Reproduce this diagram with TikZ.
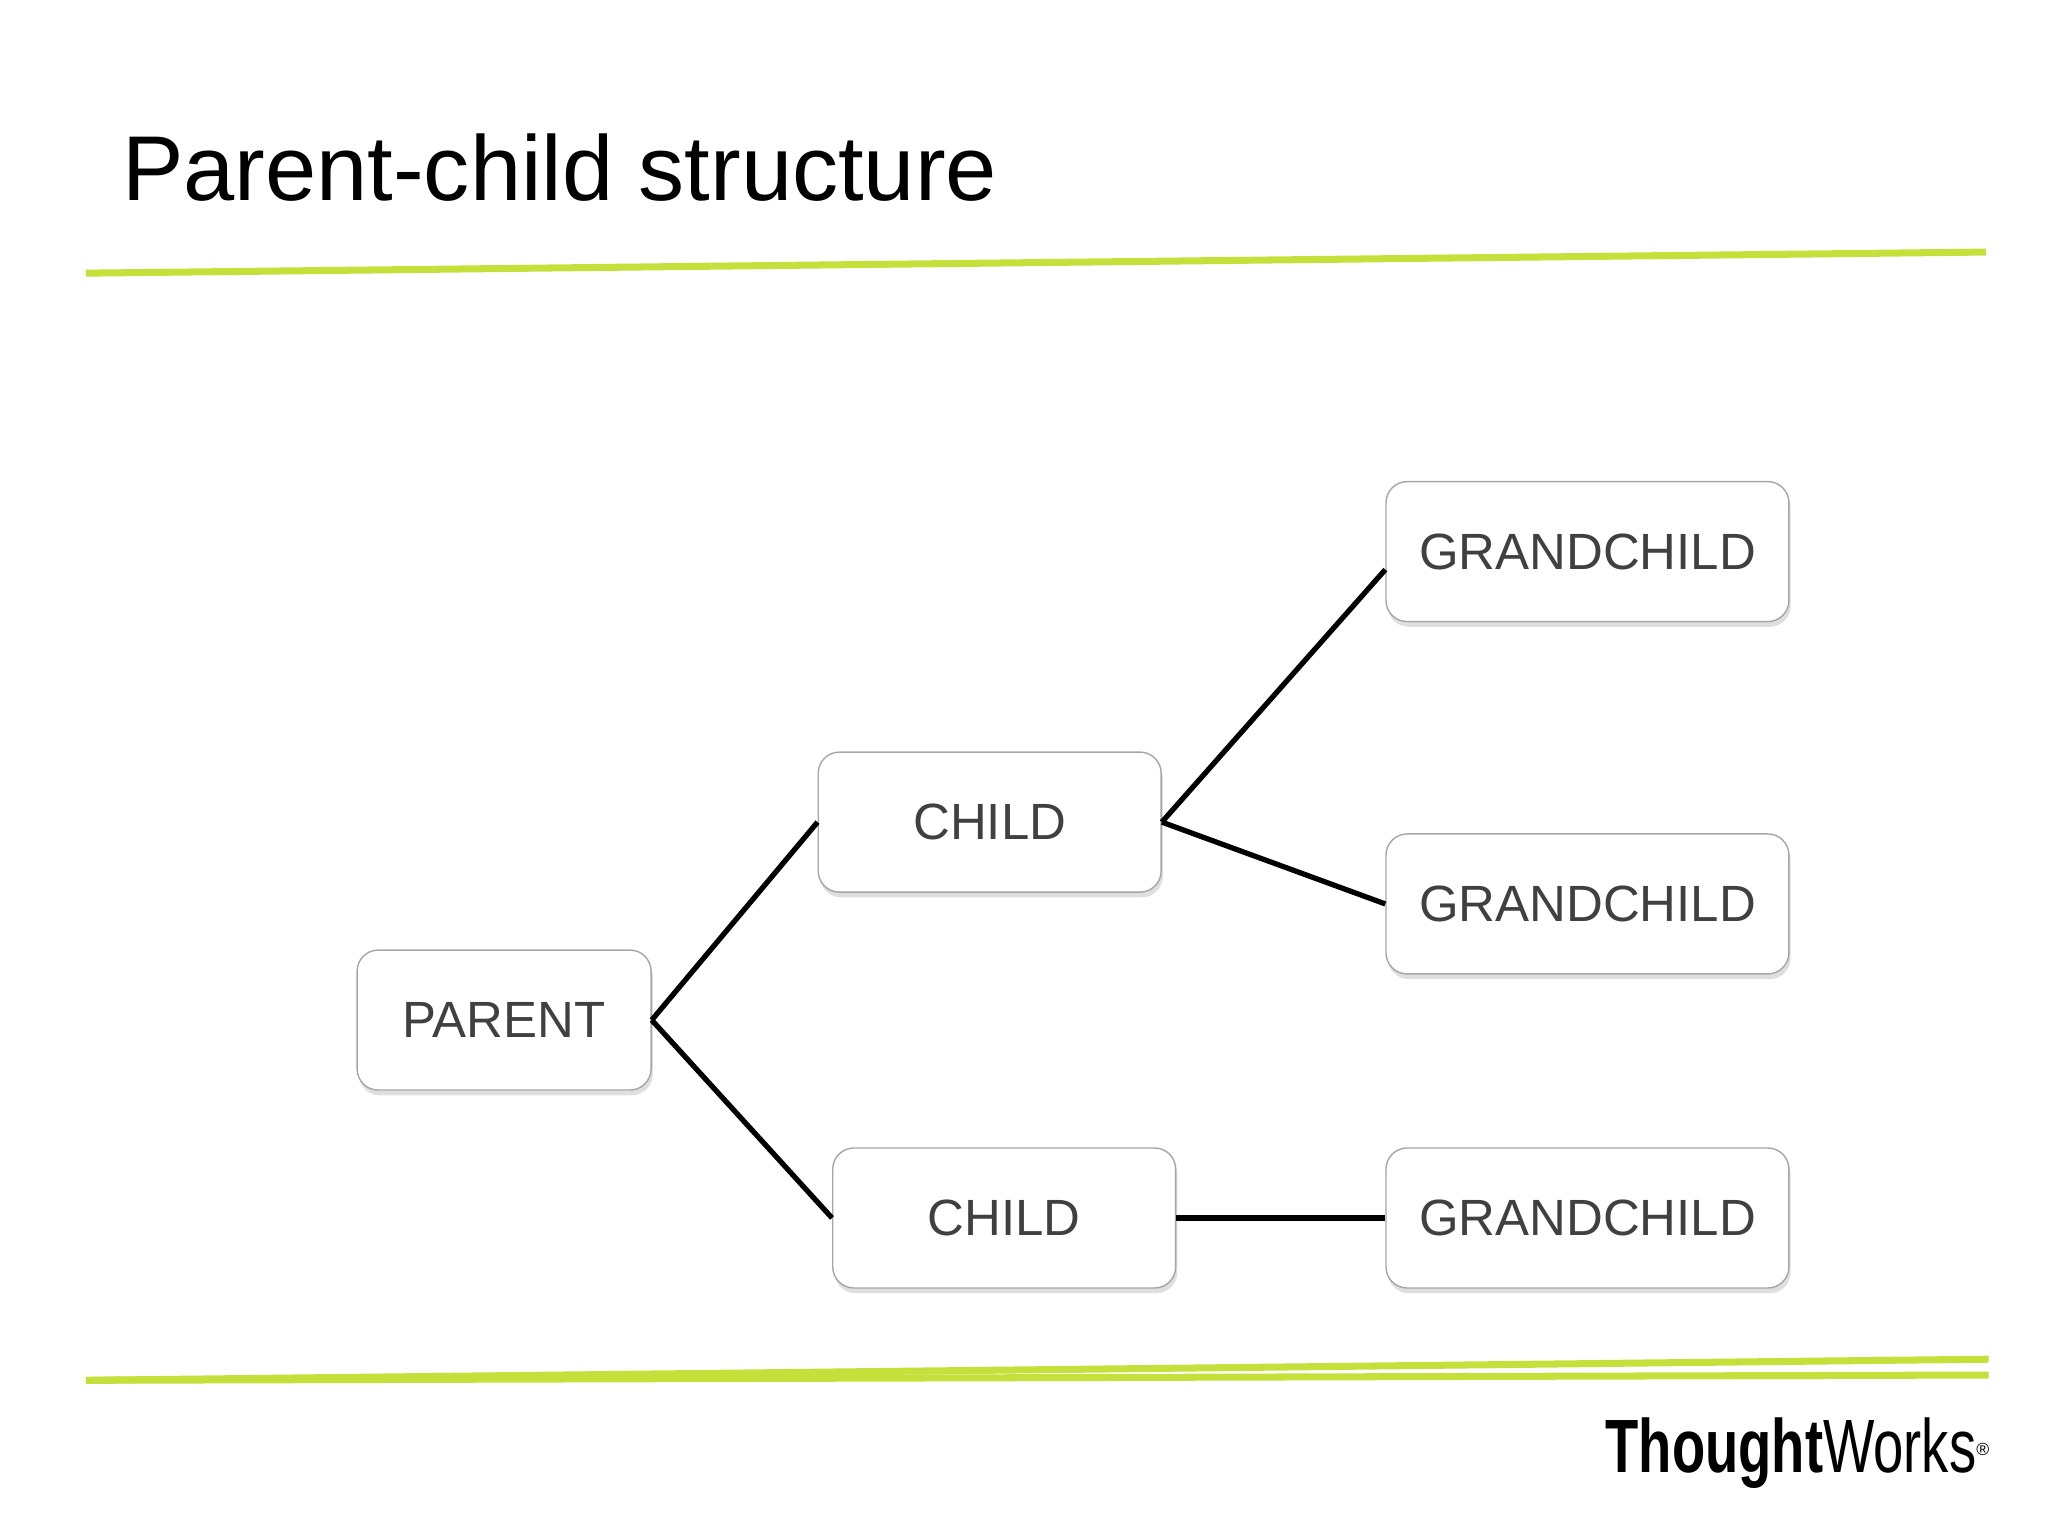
\documentclass[tikz,border=0pt]{standalone}
\usepackage{fontspec}
\setmainfont{Liberation Sans}
\usepackage{graphicx}
\usetikzlibrary{shadows}
\definecolor{twgreen}{HTML}{C5E03A}
\definecolor{boxtext}{HTML}{404040}
\begin{document}
\begin{tikzpicture}[
    x=0.0132cm, y=-0.0132cm,
    box/.style={rectangle, draw=gray!70, fill=white, rounded corners=6pt, minimum height=1.4cm,
        text=boxtext, font=\fontsize{14.5}{16}\selectfont, drop shadow={shadow xshift=0.5pt, shadow yshift=-1.5pt, fill=gray!50}},
    link/.style={draw=black, line width=1.5pt},
    rule/.style={draw=twgreen, line width=2pt}
]
\useasboundingbox (0,0) rectangle (1552,1164);

% Title and rules
\node[anchor=base west, font=\fontsize{26.2}{30}\selectfont, inner sep=0] (title) at (92,152) {Parent-child structure};
\draw[rule] (65,207) -- (1505,191);
\draw[rule] (65,1046) -- (1507,1030);
\draw[rule] (65,1046) -- (1507,1042);

% Boxes
\node[box, minimum width=2.94cm] (parent) at (382,773) {PARENT};
\node[box, minimum width=3.43cm] (childa) at (750,623) {CHILD};
\node[box, minimum width=3.43cm] (childb) at (761,923) {CHILD};
\node[box, minimum width=4.03cm] (gca) at (1203,418) {GRANDCHILD};
\node[box, minimum width=4.03cm] (gcb) at (1203,685) {GRANDCHILD};
\node[box, minimum width=4.03cm] (gcc) at (1203,923) {GRANDCHILD};

% Connectors
\draw[link] (parent.east) -- (childa.west);
\draw[link] (parent.east) -- (childb.west);
\draw[link] (childa.east) -- ([yshift=-0.18cm]gca.west);
\draw[link] (childa.east) -- (gcb.west);
\draw[link] (childb.east) -- (gcc.west);

% Logo
\node[anchor=base east, inner sep=0] (logo) at (1508,1116)
    {\scalebox{0.72}[1]{\fontsize{21.5}{24}\selectfont\textbf{Thought}Works}\raisebox{0.9ex}{\fontsize{5}{6}\selectfont®}};
\end{tikzpicture}
\end{document}
